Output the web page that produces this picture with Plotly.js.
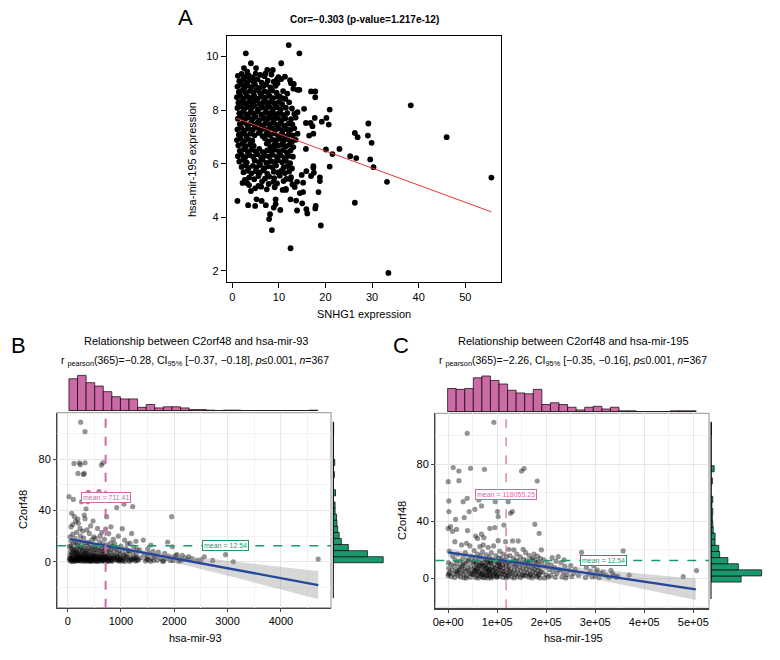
<!DOCTYPE html>
<html><head><meta charset="utf-8">
<script src="https://cdn.plot.ly/plotly-3.0.1.min.js"></script>
<style>body{margin:0;background:#fff}#chart{width:780px;height:660px}</style>
</head><body><div id="chart"></div>
<script>
// ---------- Panel A : SNHG1 vs hsa-mir-195 ----------
const xA = [
12.1,2.9,14.4,38.3,46.0,55.6,33.5,12.5,8.5,19.0,
26.3,1.1,33.2,25.3,23.0,26.3,26.9,29.1,29.2,29.9,
29.6,30.3,26.6,21.5,20.1,20.9,20.9,20.7,20.2,19.2,
17.8,16.9,17.8,15.4,14.4,14.0,13.2,12.6,10.5,17.7,
16.8,17.2,16.5,15.8,17.4,17.4,17.5,16.9,15.9,14.9,
15.2,13.9,13.4,14.5,15.2,13.7,15.0,15.9,13.9,16.1,
17.9,17.8,18.5,18.8,18.8,17.4,12.5,12.5,10.8,11.5,
10.3,9.3,9.3,8.9,8.1,7.9,7.2,6.3,5.2,4.9,
3.4,3.6,4.7,5.6,4.0,3.2,2.7,4.0,2.5,5.1,
7.1,7.5,8.7,9.9,9.6,10.5,10.9,10.2,3.2,6.0,
1.2,2.0,2.8,3.5,4.4,5.0,6.9,8.4,11.3,
1.5,2.3,3.0,3.7,4.6,5.4,6.3,7.6,8.9,9.7,12.4,
1.1,1.9,2.6,3.3,4.1,4.9,5.8,6.7,7.3,8.2,9.3,13.1,
1.4,2.2,2.9,3.8,4.5,5.2,6.0,6.9,7.7,8.6,9.5,10.9,11.8,
1.0,1.7,2.5,3.2,4.0,4.7,5.5,6.4,7.1,8.0,8.8,9.8,11.4,
1.3,2.0,2.8,3.6,4.3,5.0,5.9,6.7,7.5,8.3,9.1,10.0,10.7,12.2,
1.1,1.8,2.6,3.4,4.1,4.8,5.7,6.5,7.3,8.0,8.8,9.6,10.4,11.5,12.8,
1.5,2.3,3.1,3.9,4.6,5.3,6.2,7.0,7.8,8.5,9.3,10.1,10.9,11.8,13.3,14.0,
1.2,2.0,2.7,3.5,4.3,5.0,5.9,6.8,7.6,8.3,9.0,9.8,10.6,11.4,12.6,13.6,
1.6,2.4,3.2,4.0,4.7,5.5,6.3,7.1,7.9,8.7,9.5,10.3,11.1,12.0,12.9,15.8,
1.1,1.9,2.7,3.5,4.4,5.2,6.0,6.8,7.7,8.5,9.2,10.0,10.8,11.6,12.4,13.3,
1.4,2.2,3.0,3.9,4.8,5.7,6.5,7.3,8.1,9.0,9.8,10.6,11.3,12.1,13.0,14.0,
1.0,1.8,2.6,3.4,4.3,7.0,7.8,8.6,9.4,10.2,11.0,11.9,12.8,13.6,
1.3,2.1,2.9,3.8,4.6,7.4,8.2,9.0,9.9,10.7,11.5,12.3,13.1,
1.6,2.5,3.3,4.1,5.0,5.8,6.6,7.5,8.3,9.1,10.0,10.9,11.7,12.5,
1.2,2.0,2.8,3.7,4.5,5.4,6.2,7.0,7.9,8.7,9.6,10.4,11.2,12.1,13.0,
1.5,2.3,3.1,4.8,5.7,6.5,7.3,8.2,9.0,9.8,10.7,11.5,12.4,
2.0,2.7,3.5,4.4,5.2,6.0,6.9,7.7,8.6,9.4,11.0,11.8,12.8,
2.4,3.3,4.1,5.0,5.9,6.6,7.5,8.9,9.8,10.5,11.3,12.2,
3.6,5.6,7.0,7.9,9.0,10.2,11.6,12.6,
2.2,6.4,7.8,8.8,9.6,11.0,12.9,
4.9,6.2,7.4,9.1,11.5];
const yA = [
10.43,10.12,10.12,8.18,6.99,5.48,1.92,2.84,3.52,3.69,
4.54,4.61,5.32,6.28,6.55,7.15,6.99,7.05,7.5,6.78,
6.16,5.87,6.21,6.36,6.53,5.89,8.02,7.46,7.71,7.57,
8.7,8.7,8.48,8.05,8.76,8.76,8.98,9.0,9.75,7.71,
7.52,7.4,7.05,6.55,7.12,5.91,5.66,5.54,5.72,5.58,
5.29,5.32,5.13,4.9,4.94,4.62,4.52,4.3,4.25,4.14,
4.42,4.33,4.94,5.35,5.49,5.85,5.42,4.67,5.02,5.02,
4.27,4.67,4.49,4.36,4.11,3.93,4.45,4.61,4.67,4.42,
4.45,5.2,5.42,5.17,4.98,5.27,5.39,9.75,9.57,9.57,
9.36,9.5,9.5,9.23,9.16,9.16,8.44,8.51,9.44,9.32,
9.28,9.35,9.24,9.31,9.22,9.36,9.27,9.33,9.25,
9.08,9.14,9.02,9.12,9.05,9.15,9.03,9.1,9.06,9.0,9.12,
8.88,8.95,8.84,8.92,8.86,8.94,8.83,8.9,8.96,8.85,8.91,8.8,
8.68,8.74,8.64,8.72,8.66,8.75,8.63,8.7,8.67,8.73,8.65,8.71,8.62,
8.48,8.55,8.44,8.52,8.46,8.54,8.43,8.5,8.47,8.53,8.45,8.51,8.42,
8.28,8.34,8.24,8.32,8.26,8.35,8.23,8.3,8.27,8.33,8.25,8.31,8.22,8.29,
8.08,8.14,8.04,8.12,8.06,8.15,8.03,8.1,8.07,8.13,8.05,8.11,8.02,8.09,8.06,
7.88,7.94,7.84,7.92,7.86,7.95,7.83,7.9,7.87,7.93,7.85,7.91,7.82,7.89,7.86,7.92,
7.68,7.74,7.64,7.72,7.66,7.75,7.63,7.7,7.67,7.73,7.65,7.71,7.62,7.69,7.66,7.72,
7.48,7.54,7.44,7.52,7.46,7.55,7.43,7.5,7.47,7.53,7.45,7.51,7.42,7.49,7.46,7.52,
7.28,7.34,7.24,7.32,7.26,7.35,7.23,7.3,7.27,7.33,7.25,7.31,7.22,7.29,7.26,7.32,
7.08,7.14,7.04,7.12,7.06,7.15,7.03,7.1,7.07,7.13,7.05,7.11,7.02,7.09,7.06,7.12,
6.88,6.94,6.84,6.92,6.86,6.95,6.83,6.9,6.87,6.93,6.85,6.91,6.82,6.89,
6.68,6.74,6.64,6.72,6.66,6.75,6.63,6.7,6.67,6.73,6.65,6.71,6.62,
6.48,6.54,6.44,6.52,6.46,6.55,6.43,6.5,6.47,6.53,6.45,6.51,6.42,6.49,
6.28,6.34,6.24,6.32,6.26,6.35,6.23,6.3,6.27,6.33,6.25,6.31,6.22,6.29,6.26,
6.08,6.14,6.04,6.12,6.06,6.15,6.03,6.1,6.07,6.13,6.05,6.11,6.02,
5.88,5.94,5.84,5.92,5.86,5.95,5.83,5.9,5.87,5.93,5.85,5.91,5.82,
5.68,5.74,5.64,5.72,5.66,5.75,5.63,5.7,5.67,5.73,5.65,5.71,
5.48,5.54,5.44,5.52,5.46,5.55,5.43,5.5,
5.28,5.34,5.24,5.32,5.26,5.35,5.23,
5.08,5.14,5.04,5.12,5.06];
const fitA_x = [0.8, 55.6];
const fitA_y = [7.7, 4.2];
const ticksA_x = [0,10,20,30,40,50];
const ticksA_y = [2,4,6,8,10];

// ---------- Panel B : hsa-mir-93 vs C2orf48 ----------
const xB = [
25,106,119,75,125,62,150,95,170,45,140,60,110,175,
35,80,130,160,50,100,150,70,120,180,40,90,140,
165,55,105,155,30,75,125,175,65,115,145,95,160,50,135,85,170,110,60,145,95,40,180,
244,325,219,237,325,194,294,312,262,325,231,190,344,310,200,280,240,300,215,330,260,
190,250,305,220,280,335,200,265,320,235,290,210,340,255,
195,245,300,225,275,330,205,260,315,240,290,190,270,320,215,345,230,285,250,310,
387,375,475,406,430,360,490,450,380,420,
355,470,395,440,500,365,415,480,350,430,390,460,500,
370,425,485,355,405,455,495,380,440,360,470,410,390,450,500,430,365,475,400,345,420,480,
587,631,662,606,560,640,520,600,650,
515,575,635,545,610,660,530,590,650,555,620,
510,570,630,540,600,660,525,585,645,560,615,510,665,550,595,640,575,530,610,655,
731,712,812,690,770,800,720,
680,750,810,700,780,740,690,820,760,
675,730,795,710,770,825,690,750,800,720,785,745,705,815,760,695,
919,856,950,880,
840,900,960,870,930,980,850,
890,940,985,860,915,970,835,900,950,875,925,960,
1056,1025,1069,1120,1000,1090,1140,1030,1110,1060,995,1045,1100,1150,1015,1075,1130,1005,1085,1040,
1219,1200,1280,1170,1240,1300,1160,1225,1290,1180,1250,1305,1195,1265,1160,1230,1285,1210,1300,
1419,1350,1440,1380,1330,1460,
1562,1500,1600,1530,1620,1490,1580,1510,1610,1550,1480,
1700,1660,1750,1680,1780,
1875,1950,1820,1900,1850,1930,1800,
1962,2050,2000,2100,1980,2080,2030,
2150,2200,2250,2130,2270,
2330,2420,2562,2500,
2720,2962,3106,4700];
const yB = [
50.8,48.7,76.8,37.8,35.2,27.3,31.5,29,23,19.5,18,16.2,14.5,13.1,
11.8,10.6,9.7,8.9,8.1,7.6,7.0,6.4,5.9,5.4,5.0,4.6,4.2,
3.6,3.1,2.7,2.3,1.9,1.6,1.3,1.0,0.8,0.6,0.4,0.2,1.8,0.5,2.1,3.4,6.8,9.2,12.4,15.6,21.5,2.6,3.0,
109,101.6,77.3,75.8,77.3,69,68.2,69,46.9,33.6,26,33.3,41.4,36.5,30,24,20,18.5,16,14.8,13.5,
12,11.2,10.5,9.8,9.0,8.4,7.8,7.3,6.7,6.2,5.6,5.1,4.7,4.3,
3.8,3.4,3.0,2.6,2.2,1.9,1.5,1.2,0.9,0.6,0.3,0.8,2.9,3.6,1.0,0.5,4.0,1.6,2.4,4.5,
54.2,46.9,31.8,22.1,28,25,19.5,17,15.2,13.8,
12.5,11.5,10.7,9.9,9.1,8.5,7.9,7.2,6.6,6.0,5.4,4.9,4.4,
3.9,3.5,3.1,2.7,2.3,1.9,1.5,1.2,0.9,0.5,0.3,0.7,2.0,2.9,0.9,1.4,3.3,2.4,4.2,1.8,0.2,4.6,
54.7,75.5,77.3,20,26,23,18,15.5,13.5,
12.2,11.0,10.2,9.3,8.5,7.9,7.0,6.3,5.7,5.0,4.4,
3.9,3.4,3.0,2.5,2.0,1.6,1.1,0.7,0.4,0.2,1.3,2.2,3.5,4.1,2.8,1.9,0.9,0.5,3.7,0.9,
35.2,25.5,27.3,17.5,22,14.5,13.2,
12.0,10.8,9.6,8.7,7.8,6.9,6.0,5.3,4.5,
3.9,3.3,2.7,2.1,1.6,1.1,0.6,0.3,0.8,2.9,3.6,1.3,4.2,2.3,0.5,1.8,
42.2,17.4,20,14,
11.8,10.5,9.2,8.0,6.9,5.8,4.9,
3.9,3.2,2.5,1.8,1.2,0.6,0.3,2.1,0.9,3.4,4.4,1.6,
45,25.8,16.9,14,12.3,10.2,8.8,7.4,6.1,5.0,3.7,2.9,2.1,1.3,0.6,0.2,3.3,1.7,4.2,1.0,
43,22.1,16,14.5,11.5,9.6,8.2,6.8,5.4,3.9,3.0,2.0,1.3,0.6,0.3,2.4,3.5,1.8,0.9,
16.9,9,6,3.2,1.5,0.5,
13,10,8.1,6.5,5,3.8,2.7,1.6,0.9,0.3,2.2,
7.5,4.2,2.6,1.1,0.4,
15.4,35.2,6.5,4.3,2.5,1.0,0.5,
11.7,5.5,3.8,2.2,1.0,0.4,4.8,
5,3.1,1.8,0.9,4.0,
2.5,0.8,3.9,1.5,
1.0,5.5,0,2.1];
const fitB_x = [44, 4700];
const fitB_y = [17.7, -18.2];
const bandB_x  = [44, 400, 711, 1200, 2000, 2800, 3600, 4700];
const bandB_lo = [15.5, 13.45, 11.36, 7.19, -0.58, -8.85, -17.3, -29.2];
const bandB_hi = [19.9, 16.45, 13.76, 10.39, 5.82, 1.75, -2.1, -7.2];
const meanB_x = 711.41, meanB_y = 12.54;
const histBx_c = [104,265,426,587,748,909,1070,1231,1392,1553,1714,1875,2036,2197,2358,2519,2680,2841,3002,3163,3324,3485,3646,3807,3968,4129,4290,4451,4612];
const histBx_n = [57,63,50,44,34,25,21,21,6,11,5,7,7,5,2,2,1,0,1,1,0,0,0,0,0,0,0,0,1];
const histBy_c = [1.6,6.3,11.1,15.8,20.6,25.3,30.1,34.8,39.6,44.3,49.1,53.8,58.6,63.3,68.1,72.8,77.6,82.3,87.1,91.8,96.6,101.3,106.1];
const histBy_n = [136,93,41,22,16,12,10,9,5,5,0,6,0,0,3,0,4,0,0,0,0,1,1];
const ticksB_x = [0,1000,2000,3000,4000];
const ticksB_y = [0,40,80];

// ---------- Panel C : hsa-mir-195 vs C2orf48 ----------
const xC = [
10200,0,1400,1400,15000,0,4800,8800,13600,
2000,9000,14000,500,6000,12000,1000,7500,15500,3000,10500,0,5500,13000,800,
21800,21800,30600,32600,17000,27200,
19000,31000,24000,17500,29000,22000,33000,18500,26000,30500,20000,25000,32000,23000,28000,18000,31500,
38800,45600,38800,42800,39400,37400,44200,
35000,48000,41000,50000,36000,46000,40000,51000,34500,43000,49000,38000,45000,42000,47500,36500,40500,
62600,54400,55800,59800,68000,64600,68000,
53000,60000,66000,56000,63000,52000,68000,58000,65000,54000,61000,67000,55000,62000,57500,64000,52500,59000,66500,55500,61500,67500,53500,58500,63500,57000,
74100,85000,72800,71400,81600,
70000,78000,84000,73000,80000,86000,69500,76000,82500,71500,79000,85500,74500,81000,70500,77500,83500,72000,79500,86000,75000,81500,69000,84500,77000,73500,80500,78500,71000,83000,76500,
93200,95900,100600,102000,95200,92500,102000,
88000,97000,103000,90000,99000,87000,94000,101000,89500,96500,103000,91000,98000,87500,95000,100500,92000,99500,88500,97500,93500,90500,102500,86500,98500,
113600,117000,
105000,112000,119000,108000,115000,121000,104500,111000,118000,107000,114000,120500,106000,113000,119500,109000,116000,104000,111500,118500,107500,115500,110000,120000,105500,117500,
122400,127000,131000,131200,123800,134000,
126000,133000,138000,124000,130000,136000,122000,128000,135000,125000,132000,137500,123000,129000,134500,127500,
149600,155000,142800,153000,
140000,147000,154000,143000,150000,139500,146000,152500,141000,148000,155000,144000,151000,140500,147500,153500,
158000,165000,172000,160000,167000,157000,163000,170000,159000,166000,173000,161000,168000,157500,164000,171000,162000,169000,166500,
181600,176800,185600,190000,
175000,182000,188000,177000,184000,190500,174000,180000,186500,176000,183000,189000,178500,185000,174500,181000,187500,179500,183500,
195000,202000,198000,206000,193000,200000,204500,196500,
212000,220000,210000,217000,224400,214000,222000,209500,218500,225000,
230000,238000,228000,235000,242000,232000,240000,236500,
250000,246000,256000,252000,259000,
272000,266000,
282000,290000,286000,294000,280000,
297000,304000,311000,300000,308000,302000,
316000,322000,328000,
335000,343000,338000,346000,332000,
357000,369000,479400,506600];
const yC = [
77.7,67.8,54.3,46.8,41.4,35,36.2,33,25.7,
19,15.5,13,11,9.8,8.5,7,6,5,4,3,2,1.2,0.5,3.2,
75.3,68.5,53.8,42.6,34.4,23.4,
17,14.5,12.2,10.6,9.1,7.8,6.5,5.2,4.1,3.0,2.0,1.0,0.4,5.9,8.0,3.5,11,
101.8,77.2,56.1,46.8,33.5,24.6,22.7,
18,15,13.2,11.5,10.1,8.6,7.2,6.1,4.9,3.9,2.8,1.9,0.8,5.5,3.3,0.3,12,
55,48.4,29.7,28,31,22.2,50.8,
19.5,17,15.5,14,12.8,11.6,10.5,9.6,8.7,7.9,7.0,6.2,5.5,4.8,4.0,3.3,2.6,1.9,1.2,0.5,0.2,2.8,5.0,6.6,9.2,11,
76.5,35,28.5,23.4,21.8,
18.5,16.5,14.8,13.5,12.2,11.2,10.3,9.5,8.7,7.9,7.2,6.5,5.8,5.1,4.4,3.8,3.1,2.5,1.8,1.2,0.6,0.2,2.9,4.8,6.9,9.0,10.9,2.2,0.4,5.9,13,
109.5,53.8,46.8,43.3,35.6,22.7,26.4,
18,16,14.3,13,11.8,10.7,9.8,8.9,8,7.2,6.3,5.5,4.7,3.9,3.1,2.3,1.5,0.7,0.2,4.0,6.8,2.6,11,12.5,1.3,
37.4,25.7,
19,17,15.2,13.8,12.6,11.4,10.4,9.5,8.6,7.8,7.0,6.2,5.4,4.6,3.8,3.0,2.2,1.4,0.6,0.2,3.5,5.0,12,1.5,8,10,
53.8,45.6,46.8,26.2,20.4,19.9,
16,14,12.6,11.3,10,8.9,7.8,6.8,5.9,4.8,3.9,2.9,1.9,1.0,0.3,3.4,
75.3,77,26.2,20.4,
17,15,13.3,12,10.6,9.4,8.2,7.1,6.0,5.0,4.0,3.1,2.2,1.3,0.5,1.8,
18,16,14,12.5,11.2,9.9,8.8,7.7,6.6,5.6,4.6,3.7,2.8,1.9,1.0,0.3,10.5,13,2.2,
68.3,37.9,31.6,19.9,
17,15.5,14,12.8,11.5,10.3,9.2,8.2,7.2,6.3,5.4,4.5,3.6,2.7,1.8,0.9,0.3,11,2,
13,10.5,8,6,4.2,2.5,1,0.3,
14.5,12,9.5,7.5,15.2,5,3.5,2,0.8,6,
11,8.5,6,4,2.5,1,0.3,13,
9,5.5,3.5,1.2,6.5,
18.2,2,
7.5,5,3,1,0.5,
8.7,6,3.5,1.5,0.4,4.5,
4.5,2,0.5,
3.5,0.7,2,1.5,5.5,
19.2,2.3,1.2,5.4];
const fitC_x = [0, 505000];
const fitC_y = [18.2, -7.7];
const bandC_x  = [0, 60000, 118000, 200000, 300000, 400000, 505000];
const bandC_lo = [15.3, 13.3, 10.75, 6.04, -0.69, -7.72, -15.3];
const bandC_hi = [21.1, 16.9, 13.55, 9.84, 6.31, 3.08, -0.1];
const meanC_x = 118055.25, meanC_y = 12.54;
const histCx_c = [7540,25020,42500,59980,77460,94940,112420,129900,147380,164860,182340,199820,217300,234780,252260,269740,287220,304700,322180,339660,357140,374620,392100,409580,427060,444540,462020,479500,496980];
const histCx_n = [26,25,26,38,40,35,31,24,21,20,25,8,10,8,5,2,5,6,3,5,1,1,0,0,0,0,1,1,1];
const histCy_c = [-0.5,3.8,8.1,12.4,16.7,21.0,25.3,29.6,33.9,38.2,42.5,46.8,51.1,55.4,59.7,64.0,68.3,72.6,76.9,81.2,85.5,89.8,94.1,98.4,102.7,107.0];
const histCy_n = [66,111,60,37,19,17,9,9,5,4,3,4,2,4,0,0,3,0,7,0,0,0,0,0,1,1];
const ticksC_x = [0,100000,200000,300000,400000,500000];
const ticksC_xt = ['0e+00','1e+05','2e+05','3e+05','4e+05','5e+05'];
const ticksC_y = [0,40,80];

// ---------- drawing ----------
const FONT = "Liberation Sans, Arial, sans-serif";
const W = 780, H = 660;
const px = v => v / W, py = v => 1 - v / H;
const PINK = '#CC6AA6', GREEN = '#1A9A6C', PTS = 'rgba(0,0,0,0.42)';

const traces = [
  {x: xA, y: yA, type: 'scatter', mode: 'markers', xaxis: 'x', yaxis: 'y',
   marker: {size: 5.8, color: '#000'}},
  {x: fitA_x, y: fitA_y, type: 'scatter', mode: 'lines', xaxis: 'x', yaxis: 'y',
   line: {color: '#E5383B', width: 1}},

  {x: xB, y: yB, type: 'scatter', mode: 'markers', xaxis: 'x2', yaxis: 'y2',
   marker: {size: 5.2, color: PTS}},
  {x: bandB_x, y: bandB_lo, type: 'scatter', mode: 'lines', xaxis: 'x2', yaxis: 'y2',
   line: {width: 0, shape: 'spline'}},
  {x: bandB_x, y: bandB_hi, type: 'scatter', mode: 'lines', xaxis: 'x2', yaxis: 'y2',
   line: {width: 0, shape: 'spline'}, fill: 'tonexty', fillcolor: 'rgba(150,150,150,0.38)'},
  {x: fitB_x, y: fitB_y, type: 'scatter', mode: 'lines', xaxis: 'x2', yaxis: 'y2',
   line: {color: '#24479A', width: 2.3}},
  {x: histBx_c, y: histBx_n, type: 'bar', width: 161, xaxis: 'x3', yaxis: 'y3',
   marker: {color: PINK, line: {color: '#000', width: 0.7}}},
  {y: histBy_c, x: histBy_n, type: 'bar', orientation: 'h', width: 4.75, xaxis: 'x4', yaxis: 'y4',
   marker: {color: GREEN, line: {color: '#000', width: 0.7}}},

  {x: xC, y: yC, type: 'scatter', mode: 'markers', xaxis: 'x5', yaxis: 'y5',
   marker: {size: 5.2, color: PTS}},
  {x: bandC_x, y: bandC_lo, type: 'scatter', mode: 'lines', xaxis: 'x5', yaxis: 'y5',
   line: {width: 0, shape: 'spline'}},
  {x: bandC_x, y: bandC_hi, type: 'scatter', mode: 'lines', xaxis: 'x5', yaxis: 'y5',
   line: {width: 0, shape: 'spline'}, fill: 'tonexty', fillcolor: 'rgba(150,150,150,0.38)'},
  {x: fitC_x, y: fitC_y, type: 'scatter', mode: 'lines', xaxis: 'x5', yaxis: 'y5',
   line: {color: '#24479A', width: 2.3}},
  {x: histCx_c, y: histCx_n, type: 'bar', width: 17480, xaxis: 'x6', yaxis: 'y6',
   marker: {color: PINK, line: {color: '#000', width: 0.7}}},
  {y: histCy_c, x: histCy_n, type: 'bar', orientation: 'h', width: 4.3, xaxis: 'x7', yaxis: 'y7',
   marker: {color: GREEN, line: {color: '#000', width: 0.7}}}
];

const tf = {family: FONT, size: 11, color: '#000'};
function mainAx(dom, rng, tv, tt, minorVals, anchor) {
  const a = {domain: dom, range: rng, tickmode: 'array', tickvals: tv, anchor: anchor,
    showgrid: true, gridcolor: '#E6E6E6', gridwidth: 1, zeroline: false,
    showline: true, linecolor: '#444', linewidth: 1.3,
    ticks: 'outside', ticklen: 3, tickcolor: '#444', tickfont: tf,
    minor: {tickmode: 'array', tickvals: minorVals, showgrid: true, gridcolor: '#F3F3F3', ticks: ''}};
  if (tt) a.ticktext = tt;
  return a;
}
const hid = (dom, rng, anchor) => ({domain: dom, range: rng, visible: false, anchor: anchor, fixedrange: true});

const domBx = [px(57.3), px(331)], domBy = [py(607.7), py(412.7)];
const domCx = [px(435.3), px(709)], domCy = [py(608.3), py(413.3)];
const rBx = [-195, 4940], rBy = [-35.9, 116.4];
const rCx = [-26300, 532000], rCy = [-21.05, 115.8];

const labelBox = c => ({font: {size: 7, color: c}, bgcolor: '#fff', bordercolor: c, borderwidth: 1, borderpad: 1});
const annotations = [
  {text: 'A', x: px(185), y: py(18), font: {size: 22}},
  {text: 'B', x: px(18), y: py(345), font: {size: 22}},
  {text: 'C', x: px(401), y: py(345), font: {size: 22}},
  {text: '<b>Cor=−0.303 (p-value=1.217e-12)</b>', x: px(364), y: py(20), font: {size: 10}},
  {text: 'SNHG1 expression', x: px(364), y: py(314), font: {size: 11}},
  {text: 'hsa-mir-195 expression', x: px(192), y: py(160), textangle: -90, font: {size: 11}},

  {text: 'Relationship between C2orf48 and hsa-mir-93', x: px(196), y: py(341), font: {size: 11}},
  {text: 'r <sub>pearson</sub>(365)=−0.28, CI<sub>95%</sub> [−0.37, −0.18], <i>p</i>≤0.001, <i>n</i>=367', x: px(195), y: py(361), font: {size: 10.5}},
  {text: 'hsa-mir-93', x: px(195), y: py(638), font: {size: 11}},
  {text: 'C2orf48', x: px(23), y: py(510), textangle: -90, font: {size: 11}},

  {text: 'Relationship between C2orf48 and hsa-mir-195', x: px(573), y: py(341), font: {size: 11}},
  {text: 'r <sub>pearson</sub>(365)=−2.26, CI<sub>95%</sub> [−0.35, −0.16], <i>p</i>≤0.001, <i>n</i>=367', x: px(573), y: py(361), font: {size: 10.5}},
  {text: 'hsa-mir-195', x: px(573), y: py(638), font: {size: 11}},
  {text: 'C2orf48', x: px(402), y: py(520), textangle: -90, font: {size: 11}}
].map(a => Object.assign({xref: 'paper', yref: 'paper', showarrow: false, xanchor: 'center', yanchor: 'middle'}, a))
.concat([
  Object.assign({text: 'mean = 711.41', xref: 'x2', yref: 'y2', x: meanB_x, y: 50}, labelBox(PINK)),
  Object.assign({text: 'mean = 12.54', xref: 'x2', yref: 'y2', x: 2960, y: meanB_y}, labelBox(GREEN)),
  Object.assign({text: 'mean = 118055.25', xref: 'x5', yref: 'y5', x: meanC_x, y: 58.7}, labelBox(PINK)),
  Object.assign({text: 'mean = 12.54', xref: 'x5', yref: 'y5', x: 316000, y: meanC_y}, labelBox(GREEN))
].map(a => Object.assign({showarrow: false, xanchor: 'center', yanchor: 'middle'}, a)));

const layout = {
  width: W, height: H, margin: {l: 0, r: 0, t: 0, b: 0},
  paper_bgcolor: '#fff', plot_bgcolor: '#fff', showlegend: false,
  font: {family: FONT, size: 11, color: '#000'}, barmode: 'overlay',
  xaxis: {domain: [px(226.7), px(500.7)], range: [-1.2, 57.6], tickmode: 'array', tickvals: ticksA_x,
    showgrid: false, zeroline: false, showline: true, mirror: true, linecolor: '#000', linewidth: 1,
    ticks: 'outside', ticklen: 5, tickcolor: '#000', tickfont: tf, anchor: 'y'},
  yaxis: {domain: [py(282), py(35.7)], range: [1.58, 10.78], tickmode: 'array', tickvals: ticksA_y,
    showgrid: false, zeroline: false, showline: true, mirror: true, linecolor: '#000', linewidth: 1,
    ticks: 'outside', ticklen: 5, tickcolor: '#000', tickfont: tf, anchor: 'x'},
  xaxis2: mainAx(domBx, rBx, ticksB_x, null, [500,1500,2500,3500,4500], 'y2'),
  yaxis2: mainAx(domBy, rBy, ticksB_y, null, [-20,20,60,100], 'x2'),
  xaxis3: hid(domBx, rBx, 'y3'),
  yaxis3: hid([py(410.7), py(372.7)], [0, 67.8], 'x3'),
  xaxis4: hid([px(333.3), px(388)], [0, 149], 'y4'),
  yaxis4: hid(domBy, rBy, 'x4'),
  xaxis5: mainAx(domCx, rCx, ticksC_x, ticksC_xt, [50000,150000,250000,350000,450000], 'y5'),
  yaxis5: mainAx(domCy, rCy, ticksC_y, null, [-20,20,60,100], 'x5'),
  xaxis6: hid(domCx, rCx, 'y6'),
  yaxis6: hid([py(411.7), py(372.4)], [0, 44], 'x6'),
  xaxis7: hid([px(711), px(768)], [0, 125], 'y7'),
  yaxis7: hid(domCy, rCy, 'x7'),
  shapes: [
    {type: 'rect', xref: 'x2 domain', yref: 'y2 domain', x0: 0, x1: 1, y0: 0, y1: 1,
     line: {color: '#A8A8A8', width: 1.3}, layer: 'below'},
    {type: 'rect', xref: 'x5 domain', yref: 'y5 domain', x0: 0, x1: 1, y0: 0, y1: 1,
     line: {color: '#A8A8A8', width: 1.3}, layer: 'below'},
    {type: 'line', xref: 'x2', yref: 'y2 domain', x0: meanB_x, x1: meanB_x, y0: 0, y1: 1,
     line: {color: PINK, width: 2, dash: 'dash'}},
    {type: 'line', xref: 'x2 domain', yref: 'y2', x0: 0, x1: 1, y0: meanB_y, y1: meanB_y,
     line: {color: GREEN, width: 1.5, dash: 'dash'}},
    {type: 'line', xref: 'x5', yref: 'y5 domain', x0: meanC_x, x1: meanC_x, y0: 0, y1: 1,
     line: {color: PINK, width: 1.2, dash: 'dash'}},
    {type: 'line', xref: 'x5 domain', yref: 'y5', x0: 0, x1: 1, y0: meanC_y, y1: meanC_y,
     line: {color: GREEN, width: 1.5, dash: 'dash'}},
    {type: 'line', xref: 'paper', yref: 'y2', x0: px(333.3), x1: px(333.3), y0: -28.4, y1: 109.4,
     line: {color: '#000', width: 1}},
    {type: 'line', xref: 'paper', yref: 'y5', x0: px(711), x1: px(711), y0: -14.5, y1: 109.9,
     line: {color: '#000', width: 1}},
    {type: 'line', xref: 'x3', yref: 'y3', x0: 24, x1: 4692, y0: 0, y1: 0,
     line: {color: '#000', width: 1}},
    {type: 'line', xref: 'x6', yref: 'y6', x0: -1200, x1: 505700, y0: 0, y1: 0,
     line: {color: '#000', width: 1}}
  ],
  annotations: annotations
};

Plotly.newPlot('chart', traces, layout, {staticPlot: true, displayModeBar: false});
</script>
</body></html>
